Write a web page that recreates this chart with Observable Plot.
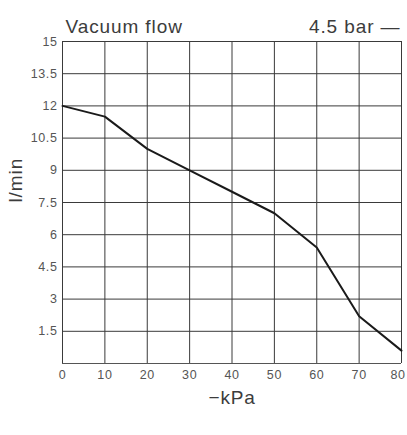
<!DOCTYPE html>
<html><head><meta charset="utf-8">
<script src="https://cdn.jsdelivr.net/npm/d3@7"></script>
<script src="https://cdn.jsdelivr.net/npm/@observablehq/plot@0.6"></script>
<style>body{margin:0;background:#fff}svg{display:block}</style>
</head><body><div id="chart"></div>
<script>
const pressure = [0, 10, 20, 30, 40, 50, 60, 70, 80];
const flow = [12, 11.5, 10, 9, 8, 7, 5.4, 2.2, 0.6];
const yTicks = [1.5, 3, 4.5, 6, 7.5, 9, 10.5, 12, 13.5, 15];
const xTicks = [0, 10, 20, 30, 40, 50, 60, 70, 80];
const title = "Vacuum flow";
const seriesLabel = "4.5 bar —";
const data = pressure.map((p, i) => ({p, f: flow[i]}));
const font = "'Liberation Sans', Arial, sans-serif";
const chart = Plot.plot({
  width: 407, height: 435,
  marginTop: 41, marginBottom: 72, marginLeft: 62, marginRight: 6,
  style: {fontFamily: font, fontSize: "12px", color: "#555", background: "#fff"},
  x: {domain: [0, 80]},
  y: {domain: [0, 15]},
  marks: [
    Plot.ruleX(xTicks, {stroke: "#3a3a3a", strokeWidth: 1}),
    Plot.ruleY(yTicks, {stroke: "#3a3a3a", strokeWidth: 1}),
    Plot.ruleY([0], {stroke: "#555", strokeWidth: 1.2}),
    Plot.axisX(xTicks, {tickSize: 0, tickPadding: 7, fontSize: 12.5, fill: "#555", tickFormat: d => String(d), label: "−kPa", labelAnchor: "center", labelArrow: "none", labelOffset: 40}),
    Plot.axisY(yTicks, {tickSize: 0, tickPadding: 5, fontSize: 12.5, fill: "#555", tickFormat: d => String(d), label: null}),
    Plot.line(data, {x: "p", y: "f", stroke: "#1a1a1a", strokeWidth: 2}),
    Plot.text([title], {frameAnchor: "top-left", dy: -22, dx: 3, fontSize: 19, fill: "#3c3c3c", textAnchor: "start"}),
    Plot.text([seriesLabel], {frameAnchor: "top-right", dy: -22, dx: -1, fontSize: 19, fill: "#3c3c3c", textAnchor: "end"}),
    Plot.text(["l/min"], {frameAnchor: "left", dx: -47, rotate: -90, fontSize: 19, fill: "#3c3c3c"})
  ]
});
chart.querySelectorAll("g[aria-label='x-axis label'] text").forEach(t => { t.style.fontSize = "19px"; t.style.letterSpacing = "0.8px"; t.setAttribute("fill", "#3c3c3c"); });
chart.querySelectorAll("g[aria-label='text'] text").forEach(t => { t.style.letterSpacing = "0.9px"; });
chart.querySelectorAll("g[aria-label='x-axis tick label'] text, g[aria-label='y-axis tick label'] text").forEach(t => { t.style.letterSpacing = "0.6px"; });
const xl = chart.querySelectorAll("g[aria-label='x-axis tick label'] text");
if (xl.length) { const last = xl[xl.length - 1]; last.setAttribute("text-anchor", "end"); last.setAttribute("dx", "4"); }
document.getElementById("chart").appendChild(chart);
</script></body></html>
